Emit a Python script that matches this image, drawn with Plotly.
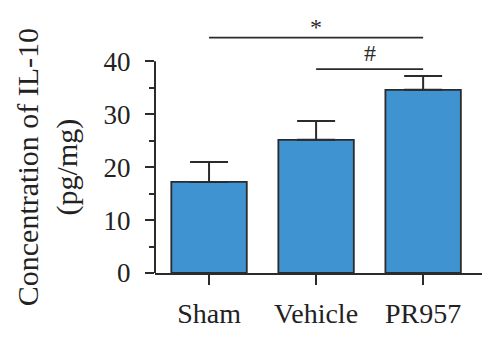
import plotly.graph_objects as go

categories = ["Sham", "Vehicle", "PR957"]
means = [17.2, 25.15, 34.6]
errors = [3.75, 3.55, 2.6]
y_tickvals = [0, 10, 20, 30, 40]
y_minor = [5, 15, 25, 35]
sig_pairs = [(0, 2, "*"), (1, 2, "#")]
sig_heights = [44.45, 38.5]
sig_shifts = [-4, 1]
sig_sizes = [24, 24]

FONT = "Liberation Serif"
DARK = "#2b2b2b"
YMAX = 48.74
AXIS_TOP = 40

xs = list(range(len(categories)))

fig = go.Figure()
fig.add_trace(go.Bar(
    x=xs, y=means, width=0.705,
    marker=dict(color="#3f93d0", line=dict(color=DARK, width=1.8)),
    error_y=dict(type="data", array=errors, arrayminus=[0] * len(errors),
                 symmetric=False, color=DARK, thickness=2, width=19),
))

shapes = []
annotations = []
# y axis line only up to 40
shapes.append(dict(type="line", xref="paper", yref="paper", x0=0, x1=0,
                   y0=0, y1=AXIS_TOP / YMAX, line=dict(color=DARK, width=2)))
for (a, b, label), h, sh, sz in zip(sig_pairs, sig_heights, sig_shifts, sig_sizes):
    shapes.append(dict(type="line", xref="x", yref="y", x0=a, x1=b, y0=h, y1=h,
                       line=dict(color=DARK, width=1.8)))
    annotations.append(dict(x=(a + b) / 2, y=h, xref="x", yref="y", text=label,
                            showarrow=False, yanchor="bottom", yshift=sh,
                            font=dict(family=FONT, size=sz, color=DARK)))

annotations.append(dict(
    x=-0.33, y=AXIS_TOP / 2, xref="paper", yref="y",
    text="Concentration of IL-10<br>(pg/mg)", textangle=-90, showarrow=False,
    xanchor="center", yanchor="middle",
    font=dict(family=FONT, size=30, color="#222")))

fig.update_layout(
    width=500, height=340,
    margin=dict(l=155, r=18, t=15, b=66.7),
    paper_bgcolor="white", plot_bgcolor="white",
    showlegend=False,
    shapes=shapes, annotations=annotations,
    xaxis=dict(range=[-0.505, 2.55], tickvals=xs, ticktext=categories,
               showline=True, linecolor=DARK, linewidth=2,
               ticks="outside", ticklen=10, tickwidth=2, tickcolor=DARK,
               showgrid=False, zeroline=False, ticklabelstandoff=4,
               tickfont=dict(family=FONT, size=28, color="#222")),
    yaxis=dict(range=[0, YMAX], tickvals=y_tickvals,
               showline=False, showgrid=False, zeroline=False,
               ticks="outside", ticklen=9, tickwidth=2, tickcolor=DARK,
               ticklabelstandoff=9,
               minor=dict(tickvals=y_minor, ticks="outside", ticklen=5,
                          tickwidth=2, tickcolor=DARK),
               tickfont=dict(family=FONT, size=27, color="#222")),
)

fig.write_html("out.html")
